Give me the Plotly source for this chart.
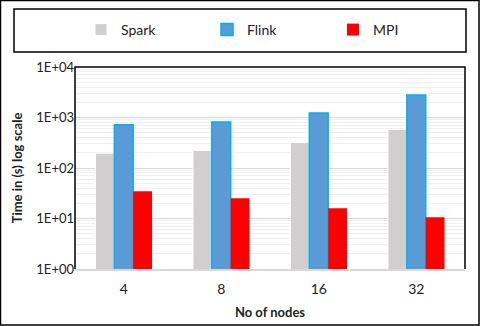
import plotly.graph_objects as go

# node counts on the x axis
nodes = ["4", "8", "16", "32"]

# run times in seconds
spark = [197, 222, 320, 578]
flink = [715, 819, 1232, 2790]
mpi = [34.5, 25.1, 16.0, 10.6]

ytick_vals = [1, 10, 100, 1000, 10000]
ytick_text = ["1E+00", "1E+01", "1E+02", "1E+03", "1E+04"]
minor_vals = [m * 10 ** d for d in range(4) for m in range(2, 10)]

font = "Lato, Liberation Sans, sans-serif"

fig = go.Figure()
fig.add_bar(x=nodes, y=spark, name="Spark",
            marker=dict(color="#D0CECE", line=dict(color="white", width=1)))
fig.add_bar(x=nodes, y=flink, name="Flink",
            marker=dict(color="#5B9BD5", line=dict(color="#00B0F0", width=1.5)))
fig.add_bar(x=nodes, y=mpi, name="MPI",
            marker=dict(color="#FF0000", line=dict(color="#FF0000", width=0)))

# plot area runs from px 75..465 and 67..269
def px(x):
    return (x - 75) / 390

def py(y):
    return (269 - y) / 202

fig.update_layout(
    width=480, height=326,
    margin=dict(l=75, r=15, t=67, b=57, autoexpand=False),
    paper_bgcolor="white", plot_bgcolor="white",
    font=dict(family=font, color="#222222"),
    barmode="group", bargap=0.42, bargroupgap=0,
    showlegend=True,
    legend=dict(orientation="h", x=px(81), xanchor="left", y=py(30), yanchor="middle",
                font=dict(size=14, family=font), entrywidth=81, entrywidthmode="pixels",
                itemwidth=30, bgcolor="rgba(0,0,0,0)", traceorder="normal"),
    shapes=[
        # outer chart border
        dict(type="rect", xref="paper", yref="paper", x0=px(0.5), x1=px(479), y0=py(325), y1=py(0.5),
             line=dict(color="black", width=1.5), layer="below"),
        # legend box
        dict(type="rect", xref="paper", yref="paper", x0=px(14), x1=px(466), y0=py(52), y1=py(9),
             line=dict(color="black", width=1.5)),
        # plot area frame (left, top, right)
        dict(type="path", xref="paper", yref="paper",
             path="M 0 0 L 0 1 L 1 1 L 1 0", line=dict(color="black", width=1.5)),
    ],
)

fig.update_xaxes(
    showline=True, linecolor="#D9D9D9", linewidth=1.5, ticks="",
    tickfont=dict(size=14, family=font), ticklabelstandoff=6,
    title=dict(text="<b>No of nodes</b>", font=dict(size=13, family=font), standoff=12),
)
fig.update_yaxes(
    type="log", range=[0, 4],
    tickvals=ytick_vals, ticktext=ytick_text,
    tickfont=dict(size=13, family=font),
    showgrid=True, gridcolor="#D9D9D9", gridwidth=1.2,
    minor=dict(showgrid=True, gridcolor="#F0F0F0", gridwidth=1, tickvals=minor_vals),
    zeroline=False, showline=False, ticks="",
    title=dict(text="<b>Time in (s) log scale</b>", font=dict(size=13, family=font), standoff=10),
)

fig.write_html("out.html", config={"displayModeBar": False},
               post_script="document.body.style.margin='0';")
